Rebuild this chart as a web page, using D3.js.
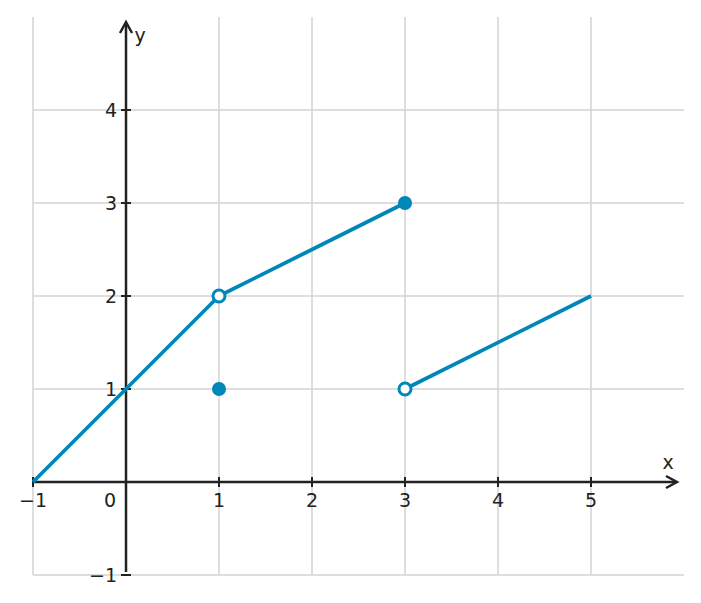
<!DOCTYPE html>
<html><head><meta charset="utf-8">
<script src="https://cdn.jsdelivr.net/npm/d3@7"></script>
<style>body{margin:0;background:#fff}text{font-family:"DejaVu Sans",sans-serif;font-size:19px;fill:#222}</style>
</head><body><svg id="c" width="701" height="603"></svg>
<script>
const xTicks=[-1,1,2,3,4,5];
const yTicks=[-1,1,2,3,4];
const seg1=[[-1,0],[1,2]];
const seg2=[[1,2],[3,3]];
const seg3=[[3,1],[5,2]];
const filledPts=[[1,1],[3,3]];
const openPts=[[1,2],[3,1]];
const color="#0087b8";
const svg=d3.select("#c");
const x=d3.scaleLinear().domain([-1,6]).range([33,684]);
const y=d3.scaleLinear().domain([-1,5]).range([575,17]);
const g=svg.append("g");
xTicks.forEach(t=>g.append("line").attr("x1",x(t)).attr("x2",x(t)).attr("y1",y(-1)).attr("y2",y(5)).attr("stroke","#d3d3d3").attr("stroke-width",1.5));
yTicks.concat([5]).forEach(t=>{if(t===5)return;g.append("line").attr("x1",x(-1)).attr("x2",x(6)).attr("y1",y(t)).attr("y2",y(t)).attr("stroke","#d3d3d3").attr("stroke-width",1.5)});
// axes
const ax="#222";
svg.append("line").attr("x1",x(-1)).attr("x2",x(6)-8).attr("y1",y(0)).attr("y2",y(0)).attr("stroke",ax).attr("stroke-width",2.5);
svg.append("path").attr("d",`M${x(6)-18},${y(0)-6}L${x(6)-7},${y(0)}L${x(6)-18},${y(0)+6}`).attr("fill","none").attr("stroke",ax).attr("stroke-width",2.5);
svg.append("line").attr("x1",x(0)).attr("x2",x(0)).attr("y1",y(-1)-3).attr("y2",y(5)+6).attr("stroke",ax).attr("stroke-width",2.5);
svg.append("path").attr("d",`M${x(0)-6},${y(5)+16}L${x(0)},${y(5)+5}L${x(0)+6},${y(5)+16}`).attr("fill","none").attr("stroke",ax).attr("stroke-width",2.5);
xTicks.forEach(t=>{svg.append("line").attr("x1",x(t)).attr("x2",x(t)).attr("y1",y(0)-5).attr("y2",y(0)+5).attr("stroke",ax).attr("stroke-width",2);
 svg.append("text").attr("x",x(t)).attr("y",y(0)+25).attr("text-anchor","middle").text(t<0?"\u2212"+(-t):t);});
yTicks.forEach(t=>{svg.append("line").attr("x1",x(0)-5).attr("x2",x(0)+5).attr("y1",y(t)).attr("y2",y(t)).attr("stroke",ax).attr("stroke-width",2);
 svg.append("text").attr("x",x(0)-9).attr("y",y(t)+7).attr("text-anchor","end").text(t<0?"\u2212"+(-t):t);});
svg.append("text").attr("x",x(0)-10).attr("y",y(0)+25).attr("text-anchor","end").text("0");
svg.append("text").attr("x",668).attr("y",469).attr("text-anchor","middle").attr("font-size",20).text("x");
svg.append("text").attr("x",140).attr("y",42).attr("text-anchor","middle").attr("font-size",20).text("y");
const line=d3.line().x(d=>x(d[0])).y(d=>y(d[1]));
[seg1,seg2,seg3].forEach(s=>svg.append("path").attr("d",line(s)).attr("fill","none").attr("stroke",color).attr("stroke-width",3.8));
filledPts.forEach(p=>svg.append("circle").attr("cx",x(p[0])).attr("cy",y(p[1])).attr("r",7).attr("fill",color));
openPts.forEach(p=>svg.append("circle").attr("cx",x(p[0])).attr("cy",y(p[1])).attr("r",6).attr("fill","#fff").attr("stroke",color).attr("stroke-width",3));
</script></body></html>
